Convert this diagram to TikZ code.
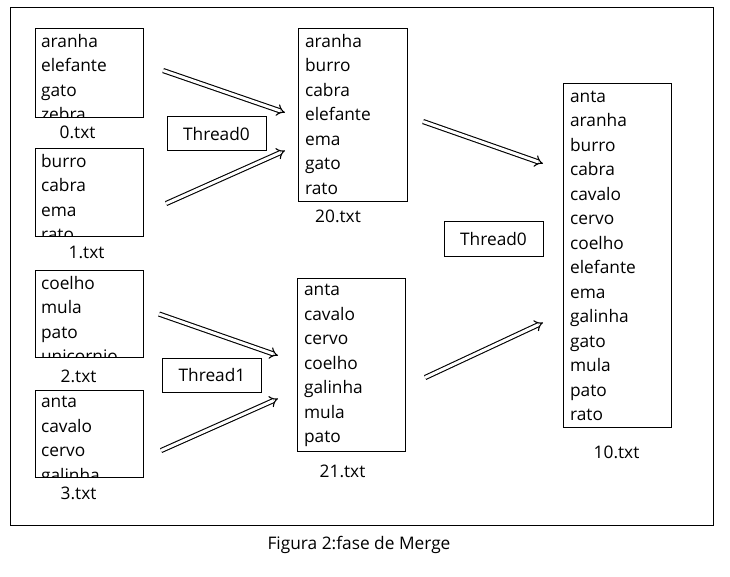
\documentclass[tikz,border=0pt]{standalone}
\usepackage{fontspec}
\setmainfont{Open Sans}
\usetikzlibrary{arrows.meta, positioning, calc}

\begin{document}
\begin{tikzpicture}[x=1pt, y=-1pt,
  every node/.style={font=\fontsize{17.3}{24.5}\selectfont},
  filebox/.style={rectangle, draw, line width=1.1pt, anchor=north west,
              inner sep=0pt, minimum width=108pt},
  words/.style={draw=none, align=left, inner sep=0pt, anchor=north west,
              minimum width=0pt, minimum height=0pt},
  fname/.style={inner sep=0pt},
  thread/.style={rectangle, draw, line width=1pt, minimum width=99pt, minimum height=34pt},
  hollow/.style={double, double distance=3pt, line width=1.1pt, -{Implies}}
]
\useasboundingbox (0,0) rectangle (730,577);
\node[rectangle, draw, line width=1.1pt, anchor=north west, minimum width=703pt,
      minimum height=518pt] (frame) at (10,7) {};

% input files
\node[filebox, minimum height=89pt, path picture={
  \node[words] at ([shift={(5,5)}]path picture bounding box.north west)
    {aranha\\elefante\\gato\\zebra};}] (f0) at (35,28) {};
\node[filebox, minimum height=88pt, path picture={
  \node[words] at ([shift={(5,5)}]path picture bounding box.north west)
    {burro\\cabra\\ema\\rato};}] (f1) at (35,148) {};
\node[filebox, minimum height=87pt, path picture={
  \node[words] at ([shift={(5,5)}]path picture bounding box.north west)
    {coelho\\mula\\pato\\unicornio};}] (f2) at (35,270) {};
\node[filebox, minimum height=87pt, path picture={
  \node[words] at ([shift={(5,5)}]path picture bounding box.north west)
    {anta\\cavalo\\cervo\\galinha};}] (f3) at (35,390) {};

\node[fname, below=8pt of f0, xshift=-12pt] (n0) {0.txt};
\node[fname, below=9pt of f1, xshift=-3pt]  (n1) {1.txt};
\node[fname, below=12pt of f2, xshift=-11pt] (n2) {2.txt};
\node[fname, below=9pt of f3, xshift=-11pt] (n3) {3.txt};

% merged files
\node[filebox, minimum width=109pt, minimum height=173pt, path picture={
  \node[words] at ([shift={(6,5)}]path picture bounding box.north west)
    {aranha\\burro\\cabra\\elefante\\ema\\gato\\rato};}] (f20) at (298,28) {};
\node[filebox, minimum height=173pt, path picture={
  \node[words] at ([shift={(6,5)}]path picture bounding box.north west)
    {anta\\cavalo\\cervo\\coelho\\galinha\\mula\\pato};}] (f21) at (297,278) {};
\node[filebox, minimum height=344pt, path picture={
  \node[words] at ([shift={(6,6.5)}]path picture bounding box.north west)
    {anta\\aranha\\burro\\cabra\\cavalo\\cervo\\coelho\\elefante\\ema\\galinha\\gato\\mula\\pato\\rato};}] (f10) at (563,83) {};

\node[fname, below=8pt of f20, xshift=-15pt] (n20) {20.txt};
\node[fname, below=13pt of f21, xshift=-9pt]  (n21) {21.txt};
\node[fname, below=18pt of f10, xshift=-1pt]  (n10) {10.txt};

% threads
\node[thread] (t0) at (216.5,134) {Thread0};
\node[thread] (t1) at (212,375) {Thread1};
\node[thread] (t2) at (493.5,239) {Thread0};

\draw[hollow] ($(f0.east)+(19,-2.5)$) -- ($(f20.west)+(-13,-2.5)$);
\draw[hollow] ($(f1.east)+(22,11)$) -- ($(f20.west)+(-13,35.5)$);
\draw[hollow] ($(f2.east)+(15,0)$) -- ($(f21.west)+(-19,-9.5)$);
\draw[hollow] ($(f3.east)+(17,16.5)$) -- ($(f21.west)+(-19,33.5)$);
\draw[hollow] ($(f20.east)+(15,6.5)$) -- ($(f10.west)+(-20,-92)$);
\draw[hollow] ($(f21.east)+(19,12.5)$) -- ($(f10.west)+(-20,67)$);

\node[fname] (cap) at (359,545) {Figura 2:fase de Merge};
\end{tikzpicture}
\end{document}
